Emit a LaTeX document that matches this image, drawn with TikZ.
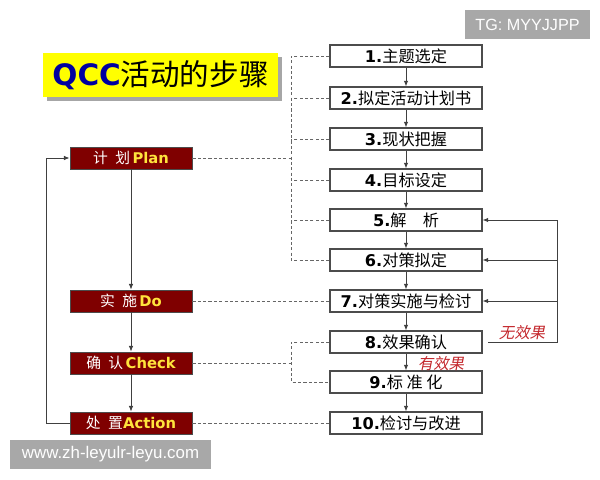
\documentclass[tikz,border=0pt]{standalone}
\usepackage{fontspec}
\setmainfont{Liberation Sans}
\newfontfamily\cjk{Noto Sans CJK SC}
\newfontfamily\cjkslant[FakeSlant=0.2]{Noto Sans CJK SC}
\newfontfamily\heavy{DejaVu Sans}
\usepackage{tikz}
\usetikzlibrary{arrows.meta,positioning,shadows}
\definecolor{planred}{HTML}{7F0000}
\definecolor{phaseyellow}{HTML}{FFE43C}
\definecolor{titleyellow}{HTML}{FFFF00}
\definecolor{qccblue}{HTML}{0000A0}
\definecolor{markgrey}{HTML}{A8A8A8}
\definecolor{effectred}{HTML}{C3262B}
\tikzset{
  stepbox/.style={draw=black!70, line width=0.8pt, fill=white, minimum width=3.8cm,
    minimum height=0.55cm, inner sep=0pt, font=\fontsize{11.5}{13}\selectfont},
  phasebox/.style={draw=black!70, line width=0.6pt, fill=planred, minimum width=3.05cm,
    minimum height=0.55cm, inner sep=0pt, text=white, font=\fontsize{10.5}{12}\selectfont},
  link/.style={-{Latex[length=4pt,width=3.2pt]}, draw=black!75, line width=0.6pt},
  tie/.style={dash pattern=on 2.2pt off 1.6pt, draw=black!60, line width=0.6pt},
  effect/.style={text=effectred, font=\cjkslant\fontsize{11}{12}\selectfont},
  wmark/.style={fill=markgrey, text=white, inner sep=0pt, font=\fontsize{11.5}{13}\selectfont}
}
\newcommand{\phasetext}[2]{{\cjk #1}\,{\heavy\bfseries\fontsize{10.5}{11}\selectfont\color{phaseyellow}#2}}
\newcommand{\steptext}[2]{{\heavy\bfseries #1}{\cjk #2}}
\begin{document}
\begin{tikzpicture}[x=0.025cm, y=-0.025cm]
      \useasboundingbox (0,0) rectangle (600,480);
      \node [fill=titleyellow, minimum width=5.875cm, minimum height=1.1cm, inner sep=0pt,
        drop shadow={shadow xshift=3pt, shadow yshift=-3pt, fill=black!35, opacity=1}]
        (title) at (160.5,75) {{\heavy\bfseries\fontsize{21}{24}\selectfont\color{qccblue}QCC}{\cjk\fontsize{21}{24}\selectfont 活动的步骤}};
      \node [wmark, minimum width=3.125cm, minimum height=0.725cm] (tg) at (527.5,24.5) {TG: MYYJJPP};
      \node [wmark, minimum width=5.025cm, minimum height=0.725cm] (web) at (110.5,454.5) {\fontsize{12}{13}\selectfont www.zh-leyulr-leyu.com};
      \node [stepbox] (s1) at (406,56) {\steptext{1.}{主题选定}};
      \node [stepbox] (s2) at (406,98) {\steptext{2.}{拟定活动计划书}};
      \node [stepbox] (s3) at (406,139) {\steptext{3.}{现状把握}};
      \node [stepbox] (s4) at (406,180) {\steptext{4.}{目标设定}};
      \node [stepbox] (s5) at (406,220) {\steptext{5.}{解\quad 析}};
      \node [stepbox] (s6) at (406,260) {\steptext{6.}{对策拟定}};
      \node [stepbox] (s7) at (406,301) {\steptext{7.}{对策实施与检讨}};
      \node [stepbox] (s8) at (406,342) {\steptext{8.}{效果确认}};
      \node [stepbox] (s9) at (406,382) {\steptext{9.}{标 准 化}};
      \node [stepbox] (s10) at (406,423) {\steptext{10.}{检讨与改进}};
      \node [phasebox] (plan) at (131,158) {\phasetext{计\enspace 划}{Plan}};
      \node [phasebox] (do) at (131,301) {\phasetext{实\enspace 施}{Do}};
      \node [phasebox] (check) at (131,363) {\phasetext{确\enspace 认}{Check}};
      \node [phasebox] (action) at (131,423) {\phasetext{处\enspace 置}{\kern-0.15em Action}};
      \coordinate (pbar) at (291,0);
      \coordinate (fb) at (557,0);
      \draw [link] (s1) -- (s2);
      \draw [link] (s2) -- (s3);
      \draw [link] (s3) -- (s4);
      \draw [link] (s4) -- (s5);
      \draw [link] (s5) -- (s6);
      \draw [link] (s6) -- (s7);
      \draw [link] (s7) -- (s8);
      \draw [link] (s8) -- (s9);
      \draw [link] (s9) -- (s10);
      \draw [link] (plan) -- (do);
      \draw [link] (do) -- (check);
      \draw [link] (check) -- (action);
      \draw [link] (action.west) -- ++(-23,0) |- (plan.west);
      \draw [tie] (plan.east) -- (plan.east -| pbar);
      \draw [tie] (s1.west) -| (s6.west -| pbar) -- (s6.west);
      \draw [tie] (s2.west) -- (s2.west -| pbar);
      \draw [tie] (s3.west) -- (s3.west -| pbar);
      \draw [tie] (s4.west) -- (s4.west -| pbar);
      \draw [tie] (s5.west) -- (s5.west -| pbar);
      \draw [tie] (do.east) -- (s7.west);
      \draw [tie] (check.east) -- (check.east -| pbar);
      \draw [tie] (s8.west) -| (s9.west -| pbar) -- (s9.west);
      \draw [tie] (action.east) -- (s10.west);
      \draw [link] ([xshift=4pt]s8.east) -| (s5.east -| fb) -- (s5.east);
      \draw [link] (s6.east -| fb) -- (s6.east);
      \draw [link] (s7.east -| fb) -- (s7.east);
      \node [effect] (noeffect) at (522,333) {无效果};
      \node [effect] (haseffect) at (441,364) {有效果};
    \end{tikzpicture}
\end{document}
